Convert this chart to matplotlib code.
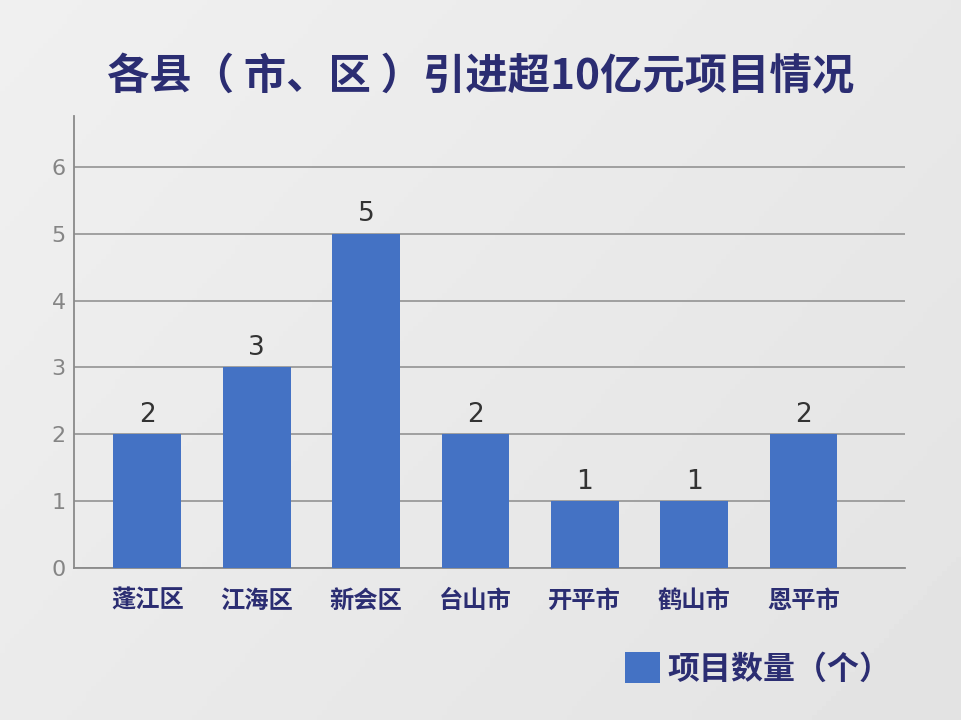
import matplotlib.pyplot as plt
import numpy as np

plt.rcParams['font.family'] = ['Noto Sans CJK SC', 'DejaVu Sans']

districts = ["蓬江区", "江海区", "新会区", "台山市", "开平市", "鹤山市", "恩平市"]
projects = [2, 3, 5, 2, 1, 1, 2]
yticks = [0, 1, 2, 3, 4, 5, 6]

title = "各县（ 市、区 ）引进超10亿元项目情况"
legend_label = "项目数量（个）"

bar_color = "#4472c4"
navy = "#2b2d72"

fig = plt.figure(figsize=(9.61, 7.2), dpi=100)

# soft grey background
bg = fig.add_axes([0, 0, 1, 1])
gx, gy = np.meshgrid(np.linspace(0, 1, 200), np.linspace(0, 1, 150))
shade = 0.92 - 0.03 * gx + 0.02 * gy
bg.imshow(shade, cmap="gray", vmin=0, vmax=1, aspect="auto", extent=[0, 1, 0, 1], origin="lower")
bg.set_axis_off()

ax = fig.add_axes([0.077, 0.211, 0.865, 0.628])
ax.patch.set_alpha(0)
x = np.arange(len(districts))
bars = ax.bar(x, projects, width=0.62, color=bar_color, zorder=3, label=legend_label)

for xi, v in zip(x, projects):
    ax.text(xi, v + 0.1, str(v), ha="center", va="bottom", fontsize=19,
            color="#333333", family="DejaVu Sans", zorder=4)

ax.set_xlim(-0.67, 6.93)
ax.set_ylim(0, 6.76)
ax.set_yticks(yticks)
ax.set_yticklabels([str(t) for t in yticks], fontsize=16, color="#858585", family="DejaVu Sans")
ax.set_xticks(x)
ax.set_xticklabels(districts, fontsize=17.5, fontweight="bold", color=navy)
ax.tick_params(axis="x", length=0, pad=15)
ax.tick_params(axis="y", length=0, pad=6)
ax.grid(axis="y", color="#9a9a9a", linewidth=1.3, zorder=1)
for s in ["top", "right"]:
    ax.spines[s].set_visible(False)
ax.spines["left"].set_color("#8a8a8a")
ax.spines["left"].set_linewidth(1.3)
ax.spines["bottom"].set_color("#8a8a8a")
ax.spines["bottom"].set_linewidth(1.3)

fig.text(0.5, 0.893, title, ha="center", va="center", fontsize=30.5,
         fontweight="heavy", color=navy)

leg = fig.legend(handles=[bars], labels=[legend_label], loc="center left",
                 bbox_to_anchor=(0.62, 0.071), frameon=False,
                 prop={"size": 23, "weight": "bold"}, handlelength=1.1,
                 handleheight=1.1, handletextpad=0.25)
for t in leg.get_texts():
    t.set_color(navy)

fig.savefig("out.png", dpi=100)
